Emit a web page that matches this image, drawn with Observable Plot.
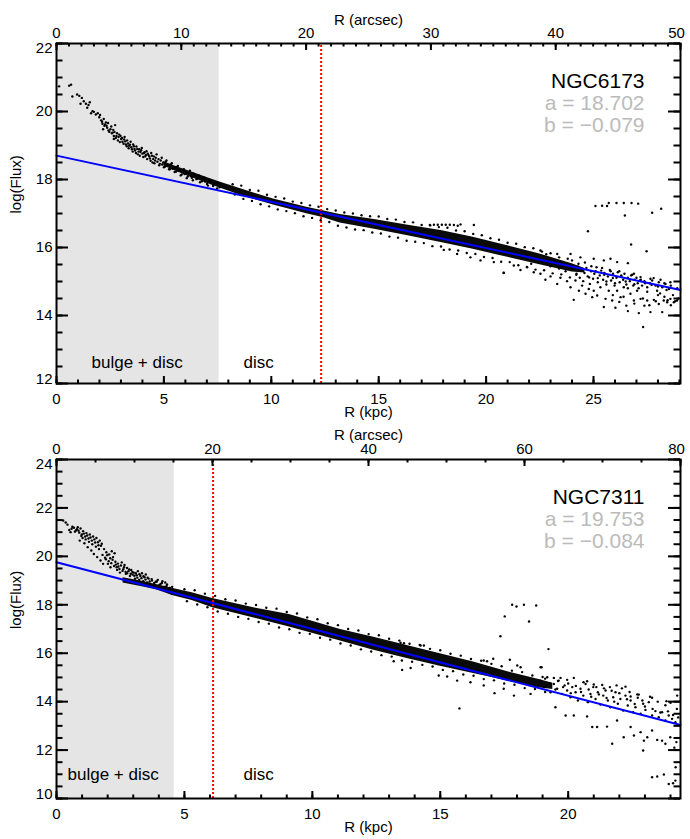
<!DOCTYPE html>
<html><head><meta charset="utf-8">
<script src="https://cdn.jsdelivr.net/npm/d3@7"></script>
<script src="https://cdn.jsdelivr.net/npm/@observablehq/plot@0.6"></script>
<style>
body{margin:0;background:#fff;}
#wrap{position:relative;width:690px;height:839px;overflow:hidden;background:#fff;}
.panel{position:absolute;left:0;width:690px;}
svg{font-family:"Liberation Sans",Arial,Helvetica,sans-serif;overflow:visible;}
</style></head><body><div id="wrap"></div>
<script>
// ---------- Panel 1 : NGC6173 ----------
const p1Name = "NGC6173";
const p1Fit = {a: 18.702, b: -0.079};           // log(Flux) = a + b * R(arcsec)
const p1Range = {kpcMax: 29.05, arcsecMax: 50};
const p1KpcTicks = [0, 5, 10, 15, 20, 25];
const p1ArcsecTicks = [0, 10, 20, 30, 40, 50];
const p1FluxTicks = [12, 14, 16, 18, 20, 22];
const p1Bulge = 7.57;      // kpc, end of bulge+disc zone
const p1Split = 12.32;     // kpc, dotted red line
const p1Core = [[5.0,18.40,18.52],[5.5,18.26,18.40],[6.2,18.08,18.24],[7.0,17.89,18.06],[7.6,17.75,17.93],[8.5,17.55,17.74],[9.3,17.40,17.58],[10.1,17.25,17.43],[10.9,17.12,17.30],[11.6,17.00,17.19],[12.4,16.88,17.08],[13.2,16.72,16.97],[14.8,16.54,16.82],[16.3,16.35,16.66],[17.9,16.15,16.50],[19.4,15.95,16.30],[21.0,15.71,16.05],[22.5,15.49,15.81],[24.0,15.28,15.52],[24.6,15.25,15.38]];
const p1BulgePts = [[0.12,20.74],[0.59,20.76],[0.68,20.79],[0.74,20.44],[0.96,20.50],[1.06,20.46],[1.12,20.23],[1.18,20.40],[1.27,20.30],[1.37,20.23],[1.43,20.11],[1.49,20.19],[1.55,20.27],[1.61,19.95],[1.68,20.01],[1.74,19.99],[1.83,19.91],[1.92,19.95],[1.99,19.83],[2.08,19.74],[2.14,19.64],[2.17,19.48],[2.23,19.58],[2.30,19.68],[2.36,19.52],[2.42,19.44],[2.51,19.48],[2.61,19.38],[2.67,19.28],[2.67,19.19],[2.73,19.60],[2.79,19.28],[2.86,19.15],[2.92,19.32],[3.01,19.19],[3.07,19.11],[3.17,19.25],[3.23,19.03],[3.29,19.15],[3.38,18.99],[3.45,19.11],[3.51,18.89],[3.57,19.03],[3.66,18.85],[3.72,18.97],[3.79,18.74],[3.85,18.89],[3.91,18.81],[3.97,18.93],[4.07,18.78],[4.13,18.68],[4.19,18.83],[4.28,18.72],[4.35,18.62],[4.41,18.78],[4.47,18.50],[4.53,18.68],[4.59,18.56],[4.66,18.74],[4.75,18.60],[4.81,18.46],[4.90,18.64],[4.97,18.50],[5.06,18.38],[5.12,18.56],[5.21,18.42],[5.28,18.30],[5.37,18.48],[5.46,18.34],[5.56,18.23],[5.65,18.40],[5.74,18.26],[5.83,18.15],[5.93,18.30],[6.02,18.21],[6.11,18.09],[6.21,18.26],[6.30,18.05],[6.39,18.17],[6.52,18.01],[6.64,18.11],[6.77,17.95],[6.89,18.05],[7.01,17.87],[7.14,17.97],[7.29,17.81],[7.45,17.91],[7.60,17.77]];
const p1BulgeDense = [[2.03,19.90],[2.12,19.70],[2.20,19.78],[2.26,19.62],[2.33,19.58],[2.40,19.66],[2.46,19.40],[2.55,19.56],[2.58,19.36],[2.64,19.46],[2.70,19.40],[2.76,19.22],[2.82,19.36],[2.89,19.25],[2.95,19.10],[2.98,19.28],[3.05,19.22],[3.12,19.05],[3.15,19.18],[3.20,19.12],[3.27,18.98],[3.33,19.06],[3.36,18.92],[3.42,19.02],[3.48,18.95],[3.55,18.82],[3.60,18.98],[3.63,18.90],[3.70,18.78],[3.76,18.90],[3.82,18.82],[3.88,18.70],[3.94,18.86],[4.00,18.76],[4.04,18.66],[4.10,18.80],[4.16,18.72],[4.22,18.60],[4.25,18.76],[4.32,18.68],[4.38,18.55],[4.44,18.70],[4.50,18.60],[4.56,18.48],[4.62,18.64],[4.70,18.52],[4.78,18.42],[4.85,18.56],[4.92,18.44],[5.00,18.36],[5.08,18.52],[5.15,18.40],[5.24,18.30],[5.32,18.44],[5.40,18.32],[5.50,18.22],[5.58,18.36],[5.68,18.26],[5.78,18.12],[5.86,18.24],[5.96,18.16],[6.06,18.04],[6.15,18.18],[6.25,18.10],[6.35,17.98],[6.45,18.12],[6.56,18.04],[6.68,17.92],[6.80,18.04],[6.92,17.94],[7.05,17.82],[7.18,17.94],[7.32,17.86],[7.48,17.74],[7.55,17.90]];
const p1Edge = [[8.2,17.86],[8.3,17.56],[8.6,17.82],[8.7,17.43],[9.0,17.69],[9.1,17.37],[9.4,17.67],[9.5,17.27],[9.8,17.55],[9.9,17.21],[10.2,17.49],[10.3,17.12],[10.6,17.44],[10.7,17.07],[11.0,17.35],[11.1,17.01],[11.4,17.31],[11.5,16.92],[11.8,17.24],[11.9,16.87],[12.2,17.20],[12.3,16.80],[12.6,17.13],[12.7,16.75],[13.0,17.09],[13.1,16.64],[13.4,17.03],[13.5,16.59],[13.8,17.00],[13.9,16.53],[14.2,16.95],[14.3,16.51],[14.6,16.92],[14.7,16.44],[15.0,16.91],[15.1,16.41],[15.4,16.84],[15.5,16.32],[15.8,16.82],[15.9,16.29],[16.2,16.75],[16.3,16.20],[16.6,16.74],[16.7,16.17],[17.0,16.66],[17.1,16.13],[17.4,16.65],[17.5,16.04],[17.8,16.60],[17.9,16.03],[18.2,16.58],[18.3,15.94],[18.6,16.50],[18.7,15.91],[19.0,16.48],[19.1,15.84],[19.4,16.40],[19.5,15.81],[19.8,16.36],[19.9,15.72],[20.2,16.27],[20.3,15.69],[20.6,16.23],[20.7,15.58],[21.0,16.14],[21.1,15.57],[21.4,16.11],[21.5,15.48],[21.8,16.01],[21.9,15.43],[22.2,15.98],[22.3,15.35],[22.6,15.88],[22.7,15.33],[23.0,15.83],[23.1,15.24],[23.4,15.71],[23.5,15.21],[23.8,15.67],[23.9,15.12]];
const p1Streak = [[17.38,16.66],[17.57,16.67],[17.75,16.67],[17.94,16.67],[18.12,16.67],[18.31,16.67],[18.50,16.66],[18.68,16.64],[18.81,16.68],[19.43,16.66]];
const p1Fringe = [[18.03,15.93],[18.65,15.81],[19.27,15.71],[19.74,15.62],[20.36,15.57],[20.82,15.26],[21.29,15.47],[21.60,15.34],[21.91,15.42],[22.22,15.27],[22.53,15.23],[22.76,15.05],[23.00,15.15],[23.31,14.93],[23.46,15.11],[23.77,15.01],[23.93,14.83],[24.08,14.46],[24.16,15.03],[24.32,14.73],[24.47,14.88],[24.63,14.64],[24.78,14.78],[24.94,14.54],[25.01,14.73],[25.17,14.59],[25.32,14.83],[25.48,14.25],[25.56,14.49],[25.71,14.73],[25.87,14.44],[26.02,14.23],[26.10,14.73],[26.26,14.54],[26.41,14.83],[26.53,14.29],[26.60,14.13],[26.72,14.64],[26.88,14.44],[27.03,14.73],[27.11,14.07],[27.19,14.49],[27.31,13.66],[27.37,14.29],[27.50,14.44],[27.65,14.10],[27.81,14.46],[27.96,14.73],[28.04,14.34],[28.20,14.10],[28.27,14.44],[28.43,14.39],[28.58,14.49],[28.74,14.39],[28.89,14.44],
 [22.53,15.91],[23.31,15.81],[23.93,15.81],[24.39,15.71],[25.01,15.67],[25.48,15.62],[25.79,15.67],[26.10,15.57],[26.60,15.54],[26.88,15.23],[27.19,15.13],[27.65,15.08],[28.12,15.05],[28.58,14.98]];
const p1Cloud = [[24.08,15.37],[24.21,15.23],[24.27,15.44],[24.36,15.11],[24.42,15.32],[24.52,15.01],[24.58,15.25],[24.67,15.40],[24.73,15.15],[24.83,14.93],[24.89,15.30],[24.98,15.08],[25.04,15.23],[25.14,15.42],[25.20,14.98],[25.29,15.18],[25.36,15.32],[25.45,15.05],[25.51,15.25],[25.60,14.91],[25.67,15.15],[25.76,15.34],[25.82,15.03],[25.91,15.23],[25.98,14.88],[26.07,15.11],[26.13,15.27],[26.22,14.98],[26.29,15.18],[26.38,15.05],[26.44,15.23],[26.53,14.91],[26.60,15.11],[26.69,15.01],[26.75,15.18],[26.85,14.88],[26.91,15.05],[27.00,15.11],[27.06,14.95],[27.16,15.03],[27.26,14.88],[27.37,15.01],[27.50,14.83],[27.62,14.95],[27.73,15.03],[27.89,14.88],[28.04,14.98],[28.20,14.83],[28.35,14.93],[28.51,14.78],
 [22.1,15.52],[22.3,15.70],[22.6,15.58],[22.8,15.80],[23.0,15.45],[23.2,15.62],[23.4,15.38],[23.5,15.55],[23.7,15.30],[23.9,15.48],[24.0,15.62],[24.2,15.20],[24.3,15.52],[24.5,15.35],[24.6,15.56],[24.8,15.12],[24.9,15.45],[25.1,15.30],[25.2,15.10],[25.4,15.40],[25.5,15.20],[25.6,15.00],[25.8,15.30],[25.9,15.10],[26.0,14.95],[26.2,15.30],[26.3,15.15],[26.5,15.00],[26.6,14.80],[26.8,15.20],[26.9,14.92],[27.1,14.80],[27.2,15.05],[27.4,14.95],[27.5,14.70],[27.7,14.90],[27.8,15.10],[28.0,14.85],[28.1,14.65],[28.3,14.95],[28.4,14.75],[28.6,14.88],[28.7,14.60],[28.9,14.80],[28.95,14.50],
 [25.9,14.60],[26.2,14.40],[26.4,14.55],[26.9,14.35],[27.3,14.50],[27.6,14.30],[27.9,14.42],[28.3,14.55],[28.6,14.30],[28.8,14.42],[28.45,14.45],[28.0,14.60]];
const p1Outliers = [[25.09,17.22],[25.40,17.23],[25.63,17.22],[25.71,17.31],[26.07,17.31],[26.41,17.31],[26.77,17.31],[27.08,17.29],[26.46,16.94],[27.73,17.02],[28.15,17.14],[24.74,16.48],[26.75,16.09],[27.47,15.89],[20.82,15.25]];

// ---------- Panel 2 : NGC7311 ----------
const p2Name = "NGC7311";
const p2Fit = {a: 19.753, b: -0.084};
const p2Range = {kpcMax: 24.39, arcsecMax: 80};
const p2KpcTicks = [0, 5, 10, 15, 20];
const p2ArcsecTicks = [0, 20, 40, 60, 80];
const p2FluxTicks = [10, 12, 14, 16, 18, 20, 22, 24];
const p2Bulge = 4.6;
const p2Split = 6.12;
const p2Core = [[2.6,18.90,19.12],[3.3,18.76,18.98],[3.9,18.62,18.84],[4.6,18.36,18.66],[5.3,18.18,18.50],[6.1,17.88,18.26],[7.8,17.43,17.86],[9.1,17.08,17.60],[11.1,16.50,16.98],[12.4,16.12,16.66],[13.7,15.78,16.32],[15.0,15.46,15.98],[16.3,15.16,15.64],[17.6,14.86,15.24],[18.9,14.56,14.90],[19.4,14.50,14.76]];
const p2BulgePts = [[0.26,21.48],[0.36,21.40],[0.43,21.31],[0.50,21.09],[0.59,21.14],[0.68,21.18],[0.76,21.07],[0.83,21.20],[0.89,20.98],[0.94,21.15],[0.91,20.65],[0.99,20.90],[1.04,21.04],[1.09,20.54],[1.12,20.82],[1.17,20.96],[1.22,20.38],[1.25,20.74],[1.30,20.90],[1.36,20.24],[1.38,20.65],[1.43,20.82],[1.46,20.10],[1.51,20.57],[1.56,20.76],[1.59,19.97],[1.64,20.46],[1.69,20.65],[1.72,19.83],[1.77,20.52],[1.82,19.69],[1.90,19.94],[1.95,20.17],[2.01,19.69],[2.06,20.08],[2.11,19.55],[2.16,20.21],[2.21,19.97],[2.27,20.13],[2.32,19.66],[2.37,19.44],[2.42,19.58],[2.48,19.33],[2.55,19.75],[2.61,19.47],[2.66,19.64],[2.71,19.28],[2.76,19.52],[2.81,19.39],[2.87,19.19],[2.92,19.44],[2.97,19.25],[3.02,19.33],[3.07,19.08],[3.13,19.22],[3.18,19.39],[3.23,19.03],[3.28,19.19],[3.34,19.30],[3.39,18.97],[3.44,19.14],[3.49,19.25],[3.54,18.92],[3.60,19.08],[3.65,18.84],[3.73,19.00],[3.80,18.78],[3.88,18.95],[3.96,19.03],[3.99,18.70],[4.07,18.86],[4.14,18.97],[4.20,18.62],[4.25,18.92],[4.30,18.78],[4.38,18.53],[4.43,18.70],[4.51,18.45],[4.56,18.62]];
const p2BulgeDense = [[0.55,21.00],[0.62,21.22],[0.72,21.02],[0.80,21.12],[0.86,21.06],[0.97,20.84],[1.02,20.76],[1.07,20.94],[1.14,20.70],[1.20,20.86],[1.27,20.60],[1.33,20.78],[1.40,20.50],[1.48,20.70],[1.54,20.40],[1.62,20.58],[1.66,20.30],[1.74,20.44],[1.80,20.06],[1.86,20.30],[1.93,19.88],[1.98,20.05],[2.04,19.80],[2.10,19.92],[2.14,19.72],[2.19,19.86],[2.25,19.60],[2.30,19.78],[2.35,19.55],[2.40,19.70],[2.46,19.48],[2.52,19.62],[2.58,19.40],[2.64,19.55],[2.70,19.36],[2.76,19.30],[2.84,19.46],[2.90,19.28],[2.96,19.36],[3.04,19.20],[3.10,19.30],[3.16,19.12],[3.24,19.26],[3.32,19.10],[3.40,19.18],[3.48,19.04],[3.56,19.12],[3.64,18.96],[3.72,19.06],[3.82,18.90],[3.92,18.96],[4.02,18.82],[4.12,18.90],[4.22,18.74],[4.32,18.84],[4.42,18.62],[4.52,18.74],[4.62,18.55]];
const p2Edge = [[5.0,18.64],[5.1,18.15],[5.4,18.60],[5.5,18.01],[5.8,18.46],[5.9,17.90],[6.2,18.37],[6.3,17.72],[6.6,18.23],[6.7,17.63],[7.0,18.18],[7.1,17.50],[7.4,18.05],[7.5,17.42],[7.8,17.99],[7.9,17.29],[8.2,17.88],[8.3,17.22],[8.6,17.84],[8.7,17.06],[9.0,17.70],[9.1,16.99],[9.4,17.64],[9.5,16.84],[9.8,17.48],[9.9,16.80],[10.2,17.40],[10.3,16.64],[10.6,17.24],[10.7,16.56],[11.0,17.16],[11.1,16.40],[11.4,17.00],[11.5,16.32],[11.8,16.94],[11.9,16.16],[12.2,16.79],[12.3,16.07],[12.6,16.74],[12.7,15.92],[13.0,16.60],[13.1,15.86],[13.4,16.52],[13.5,15.70],[13.8,16.39],[13.9,15.65],[14.2,16.34],[14.3,15.52],[14.6,16.18],[14.7,15.45],[15.0,16.12],[15.1,15.31],[15.4,15.98],[15.5,15.26],[15.8,15.90],[15.9,15.12],[16.2,15.76],[16.3,15.07],[16.6,15.69],[16.7,14.93],[17.0,15.56],[17.1,14.88],[17.4,15.46],[17.5,14.75],[17.8,15.28],[17.9,14.70],[18.2,15.22],[18.3,14.56],[18.6,15.08],[18.7,14.52],[19.0,15.02],[19.1,14.40]];
const p2Fringe = [[13.18,15.67],[13.51,15.31],[13.84,15.39],[14.94,15.08],[15.27,15.04],[15.66,14.87],[16.18,14.80],[16.70,14.67],[17.12,14.35],[17.48,14.53],[17.88,14.25],[18.53,14.32],[19.50,13.77],[19.90,13.43],[20.22,13.43],[20.74,13.39],[20.94,12.95],[21.13,12.95],[21.52,12.97],[21.72,12.26],[21.91,13.22],[22.17,12.53],[22.44,12.95],[22.57,12.60],[22.83,12.74],[22.96,12.39],[23.09,12.53],[23.28,12.81],[23.48,12.42],[23.67,12.39],[23.80,12.26],[23.99,12.53],[24.23,12.33],[22.93,11.98],
 [13.45,16.43],[13.58,16.41],[14.23,16.32],[14.36,16.32],[16.70,15.70],[16.83,15.67],[17.07,15.77],[18.92,15.42],[19.44,14.98],[19.70,14.98],[19.96,14.90],[20.22,14.98],[20.74,14.84],[21.00,14.71],[21.33,14.69],[21.63,14.60],[21.89,14.67],[22.24,14.62],[22.44,14.21],[22.76,14.29],[23.28,14.16],[23.84,14.02],[24.26,14.25]];
const p2Cloud = [[18.92,14.87],[19.07,14.60],[19.18,15.01],[19.31,14.39],[19.44,14.73],[19.57,14.53],[19.63,14.87],[19.76,14.32],[19.86,14.67],[19.96,14.46],[20.09,14.18],[20.16,14.60],[20.29,14.39],[20.38,14.05],[20.48,14.53],[20.59,14.25],[20.68,14.73],[20.77,13.98],[20.87,14.32],[20.98,14.60],[21.07,14.11],[21.16,14.39],[21.26,13.88],[21.37,14.25],[21.46,14.46],[21.55,14.05],[21.65,13.77],[21.76,14.18],[21.85,14.39],[21.94,13.91],[22.04,14.11],[22.15,13.63],[22.24,14.25],[22.33,13.84],[22.44,14.05],[22.54,13.56],[22.63,13.77],[22.72,14.16],[22.83,13.50],[22.93,13.91],[23.02,13.66],[23.15,13.98],[23.28,13.43],[23.41,13.61],[23.54,13.36],[23.67,13.56],[23.80,13.22],[23.93,13.43],[24.06,13.29],[24.19,13.15],
 [19.1,14.95],[19.3,14.75],[19.5,14.50],[19.6,14.85],[19.8,14.60],[20.0,14.75],[20.1,14.35],[20.3,14.65],[20.5,14.40],[20.6,14.80],[20.8,14.50],[20.9,14.20],[21.1,14.60],[21.2,14.30],[21.4,14.55],[21.5,14.15],[21.7,14.45],[21.8,14.00],[22.0,14.35],[22.1,14.55],[22.3,14.10],[22.4,14.40],[22.6,13.90],[22.7,14.30],[22.9,14.05],[23.0,13.80],[23.2,14.20],[23.3,13.70],[23.5,14.00],[23.6,13.55],[23.8,13.85],[23.9,13.60],[24.0,13.95],[24.1,13.45],[24.25,13.70],[24.3,13.35]];
const p2Outliers = [[17.81,18.00],[17.98,17.93],[18.27,18.00],[18.75,17.97],[17.52,17.52],[18.47,17.31],[17.35,16.70],[19.23,16.17],[18.96,15.42],[15.75,13.72],[17.72,15.73],[18.01,15.49],[18.14,15.42],
 [23.28,10.88],[23.48,10.91],[23.74,10.99],[23.93,10.60],[24.10,10.63],[24.19,10.74],[24.20,11.29],[24.15,12.10]];

const FONT = '"Liberation Sans", Arial, Helvetica, sans-serif';

function place(el, top) {
  const div = document.createElement("div");
  div.className = "panel";
  div.style.top = top + "px";
  div.appendChild(el);
  document.getElementById("wrap").appendChild(div);
}

function drawPanel(o) {
  const W = 690, ml = 56, mr = 10;
  const innerH = o.height - o.mt - o.mb;
  const innerW = W - ml - mr;
  const xMax = o.range.kpcMax;
  const k = o.range.arcsecMax / xMax;      // arcsec per kpc
  const steps = (a, b, s) => d3.range(Math.round((b - a) / s) + 1).map(i => +(a + i * s).toFixed(4));
  const ymin = o.fluxTicks[0], ymax = o.fluxTicks[o.fluxTicks.length - 1];
  const py = innerH / (ymax - ymin);   // px per flux unit
  const px = innerW / xMax;            // px per kpc
  const kMinor = steps(0, Math.floor(xMax), 1);
  const aMinor = steps(0, o.range.arcsecMax, o.arcsecMinor).map(a => a / k);
  const aMajor = o.arcsecTicks.map(a => a / k);
  const yMinor = steps(ymin, ymax, 0.5);
  const fit = [0, o.range.arcsecMax].map(a => ({x: a / k, y: o.fit.a + o.fit.b * a}));
  const fs = 15;
  const ylab = o.fluxTicks;
  const common = {
    width: W, height: o.height, marginTop: o.mt, marginBottom: o.mb, marginLeft: ml, marginRight: mr,
    x: {domain: [0, xMax], axis: null},
    y: {domain: [ymin, ymax], axis: null},
    style: {fontFamily: FONT, background: "transparent", overflow: "visible", color: "black"}
  };
  // main layer: data, lines, labels
  const plot = Plot.plot({
    ...common,
    marks: [
      Plot.rect([0], {x1: 0, x2: o.bulge, y1: ymin, y2: ymax, fill: "#e5e5e5"}),
      Plot.areaY(o.core, {x: d => d[0], y1: d => d[1], y2: d => d[2], fill: "#0a0a0a", curve: "linear"}),
      Plot.dot(o.points, {x: d => d[0], y: d => d[1], r: 1.2, fill: "black"}),
      Plot.ruleX([o.split], {y1: ymin, y2: ymax, stroke: "#ff0000", strokeWidth: 2, strokeDasharray: "2,2"}),
      Plot.line(fit, {x: "x", y: "y", stroke: "#0000ff", strokeWidth: 2}),
      // tick labels
      Plot.text(o.kpcTicks, {x: d => d, text: d => String(d), frameAnchor: "bottom", lineAnchor: "top", dy: 10, fontSize: fs, fill: "black"}),
      Plot.text(o.arcsecTicks.slice(0, -1), {x: d => d / k, text: d => String(d), frameAnchor: "top", lineAnchor: "bottom", dy: -6, fontSize: fs, fill: "black"}),
      Plot.text(o.arcsecTicks.slice(-1), {x: d => d / k, text: d => String(d), frameAnchor: "top", lineAnchor: "bottom", dy: -6, dx: -4, fontSize: fs, fill: "black"}),
      Plot.text(ylab.slice(1, -1), {y: d => d, text: d => String(d), frameAnchor: "left", textAnchor: "end", dx: -4, fontSize: fs, fill: "black"}),
      Plot.text(ylab.slice(-1), {y: d => d, text: d => String(d), frameAnchor: "left", textAnchor: "end", dx: -4, dy: 5, fontSize: fs, fill: "black"}),
      Plot.text(ylab.slice(0, 1), {y: d => d, text: d => String(d), frameAnchor: "left", textAnchor: "end", dx: -4, dy: -4, fontSize: fs, fill: "black"}),
      // axis titles
      Plot.text(["R (arcsec)"], {text: d => d, frameAnchor: "top", lineAnchor: "bottom", dy: o.arcTitleDy, fontSize: fs, fill: "black"}),
      Plot.text(["R (kpc)"], {text: d => d, frameAnchor: "bottom", lineAnchor: "bottom", dy: o.kpcTitleDy, fontSize: fs, fill: "black"}),
      Plot.text(["log(Flux)"], {text: d => d, frameAnchor: "left", dx: -40, rotate: -90, fontSize: fs, fill: "black"}),
      // annotations
      Plot.text([o.name], {text: d => d, frameAnchor: "top-right", textAnchor: "end", lineAnchor: "bottom", dx: -36, dy: 44, fontSize: 21, fill: "black"}),
      Plot.text([`a = ${o.fit.a.toFixed(3)}`], {text: d => d, frameAnchor: "top-right", textAnchor: "end", lineAnchor: "bottom", dx: -36, dy: 66.5, fontSize: 21, fill: "#bbbbbb"}),
      Plot.text([`b = \u2212${Math.abs(o.fit.b).toFixed(3)}`], {text: d => d, frameAnchor: "top-right", textAnchor: "end", lineAnchor: "bottom", dx: -36, dy: 88.5, fontSize: 21, fill: "#bbbbbb"}),
      Plot.text(["bulge + disc"], {text: d => d, frameAnchor: "bottom-left", textAnchor: "start", lineAnchor: "bottom", dx: o.bulgeDx, dy: o.zoneDy, fontSize: 17, fill: "black"}),
      Plot.text(["disc"], {text: d => d, frameAnchor: "bottom-left", textAnchor: "start", lineAnchor: "bottom", dx: 187, dy: o.zoneDy, fontSize: 17, fill: "black"})
    ]
  });
  place(plot, o.top);
  // axes layer: inward ticks (IDL style) and frame, drawn in a separate plot on top
  const tk = {stroke: "black", strokeWidth: 2};
  const axes = Plot.plot({
    ...common,
    marks: [
      Plot.ruleX(kMinor, {x: d => d, y1: ymin, y2: ymin + 3.5 / py, ...tk}),
      Plot.ruleX(o.kpcTicks, {x: d => d, y1: ymin, y2: ymin + 7 / py, ...tk}),
      Plot.ruleX(aMinor, {x: d => d, y1: ymax - 3.5 / py, y2: ymax, ...tk}),
      Plot.ruleX(aMajor, {x: d => d, y1: ymax - 7 / py, y2: ymax, ...tk}),
      Plot.ruleY(yMinor, {y: d => d, x1: 0, x2: 6.5 / px, ...tk}),
      Plot.ruleY(o.fluxTicks, {y: d => d, x1: 0, x2: 12 / px, ...tk}),
      Plot.ruleY(yMinor, {y: d => d, x1: xMax - 6.5 / px, x2: xMax, ...tk}),
      Plot.ruleY(o.fluxTicks, {y: d => d, x1: xMax - 12 / px, x2: xMax, ...tk}),
      Plot.frame({stroke: "black", strokeWidth: 2})
    ]
  });
  place(axes, o.top);
}

drawPanel({
  top: 0, height: 420, mt: 43, mb: 37,
  name: p1Name, fit: p1Fit, range: p1Range,
  kpcTicks: p1KpcTicks, arcsecTicks: p1ArcsecTicks, arcsecMinor: 1, fluxTicks: p1FluxTicks,
  bulge: p1Bulge, split: p1Split, core: p1Core,
  points: [...p1BulgePts, ...p1BulgeDense, ...p1Edge, ...p1Streak, ...p1Fringe, ...p1Cloud, ...p1Outliers],
  arcTitleDy: -19, kpcTitleDy: 33, bulgeDx: 35, zoneDy: -16
});
drawPanel({
  top: 418, height: 421, mt: 41, mb: 41,
  name: p2Name, fit: p2Fit, range: p2Range,
  kpcTicks: p2KpcTicks, arcsecTicks: p2ArcsecTicks, arcsecMinor: 5, fluxTicks: p2FluxTicks,
  bulge: p2Bulge, split: p2Split, core: p2Core,
  points: [...p2BulgePts, ...p2BulgeDense, ...p2Edge, ...p2Fringe, ...p2Cloud, ...p2Outliers],
  arcTitleDy: -20, kpcTitleDy: 33, bulgeDx: 11, zoneDy: -18.5
});
</script></body></html>
